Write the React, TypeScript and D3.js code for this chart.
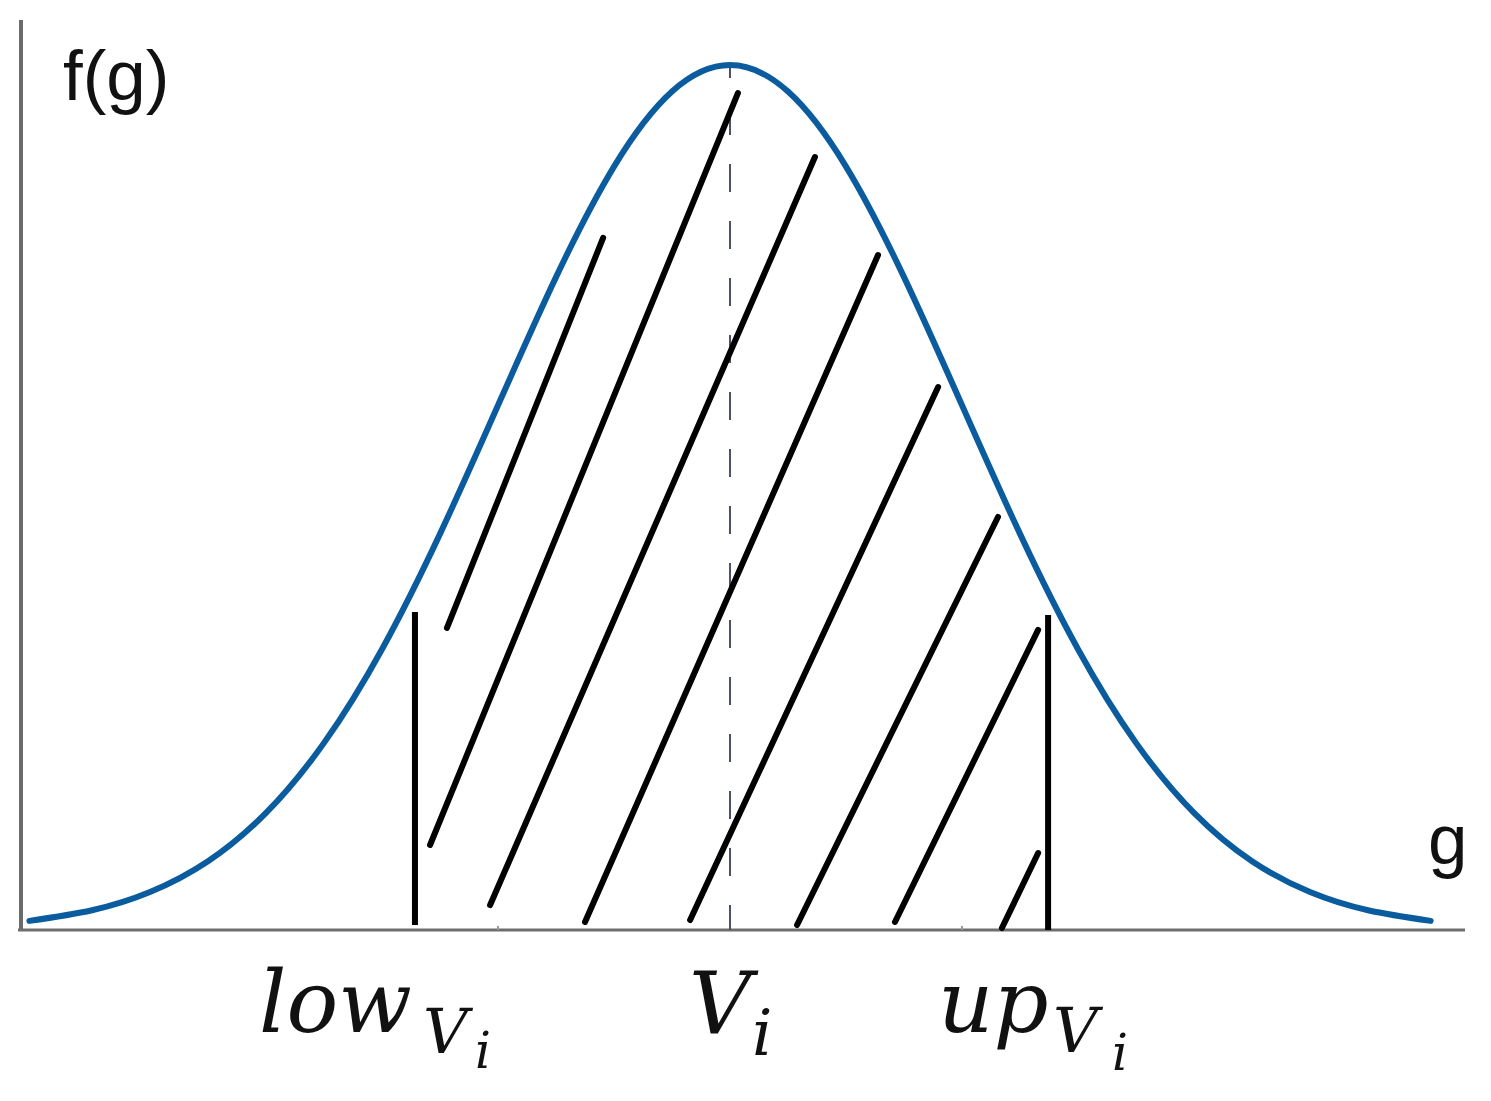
import React from "react";
import * as d3 from "d3";

// Density curve f(g) (g in σ units from V_i, f density)
const curveG = [-3.02, -2.75, -2.5, -2.25, -2, -1.75, -1.5, -1.25, -1, -0.75, -0.5, -0.25, 0, 0.25, 0.5, 0.75, 1, 1.25, 1.5, 1.75, 2, 2.25, 2.5, 2.75, 3.02];
const curveF = [0.0042, 0.0091, 0.0175, 0.0317, 0.054, 0.0863, 0.1295, 0.1827, 0.242, 0.3011, 0.3521, 0.3867, 0.3989, 0.3867, 0.3521, 0.3011, 0.242, 0.1827, 0.1295, 0.0863, 0.054, 0.0317, 0.0175, 0.0091, 0.0042];

// Interval markers
const meanG = 0;
const lowG = -1.358;
const upG = 1.371;
const lowTopF = 0.1467;
const upTopF = 0.1453;
const lowBottomF = 0.0023;

// Hatch strokes: start (lower-left) and end (upper-right) points in (g, f)
const hatchStartG = [-1.22, -1.293, -1.034, -0.625, -0.172, 0.289, 0.711, 1.172];
const hatchStartF = [0.1393, 0.0392, 0.0115, 0.0037, 0.0046, 0.0023, 0.0037, 0.0009];
const hatchEndG = [-0.547, 0.034, 0.366, 0.638, 0.897, 1.155, 1.328, 1.328];
const hatchEndF = [0.3192, 0.386, 0.3565, 0.3113, 0.2504, 0.1905, 0.1384, 0.0355];

// Minor ticks on the g axis
const tickG = [-1, 1];

const W = 1491;
const H = 1101;

export default function App() {
  const x = d3.scaleLinear().domain([-3.069, 3.168]).range([18, 1465]);
  const y = d3.scaleLinear().domain([0, 0.4197]).range([930, 20]);

  const pts: [number, number][] = curveG.map((g, i) => [g, curveF[i]]);
  const line = d3
    .line<[number, number]>()
    .x((d) => x(d[0]))
    .y((d) => y(d[1]))
    .curve(d3.curveNatural);

  const [x0, x1] = x.range();
  const [yb, yt] = y.range();

  const serif = "'DejaVu Serif', serif";
  const sans = "'Liberation Sans', Arial, sans-serif";

  const xl = x(lowG);
  const xm = x(meanG);
  const xu = x(upG);

  return (
    <svg
      width={W}
      height={H}
      viewBox={`0 0 ${W} ${H}`}
      style={{ position: "absolute", left: 0, top: 0, background: "#fff" }}
    >
      <rect x={0} y={0} width={W} height={H} fill="#fff" />
      {/* axes */}
      <line x1={x0 + 3} x2={x0 + 3} y1={yt} y2={yb + 1} stroke="#6b6b6b" strokeWidth={4} />
      <line x1={x0} x2={x1} y1={yb} y2={yb} stroke="#6e6e6e" strokeWidth={3} />
      {tickG.map((g) => (
        <line key={g} x1={x(g)} x2={x(g)} y1={yb - 4} y2={yb} stroke="#9a9a9a" strokeWidth={2} />
      ))}

      {/* mean dashed line */}
      <line
        x1={xm}
        x2={xm}
        y1={y(0.3989)}
        y2={yb}
        stroke="#4b5066"
        strokeWidth={2}
        strokeDasharray="28 29"
        strokeDashoffset={15}
      />

      {/* hatch strokes */}
      {hatchStartG.map((g, i) => (
        <line
          key={i}
          x1={x(g)}
          y1={y(hatchStartF[i])}
          x2={x(hatchEndG[i])}
          y2={y(hatchEndF[i])}
          stroke="#000"
          strokeWidth={6}
          strokeLinecap="round"
        />
      ))}

      {/* interval bounds */}
      <line x1={xl} x2={xl} y1={y(lowTopF)} y2={y(lowBottomF)} stroke="#000" strokeWidth={6} />
      <line x1={xu} x2={xu} y1={y(upTopF)} y2={yb} stroke="#000" strokeWidth={6} />

      {/* density curve */}
      <path d={line(pts) || ""} fill="none" stroke="#0b5c9e" strokeWidth={6} strokeLinecap="round" />

      {/* axis titles */}
      <text x={63} y={100} fontFamily={sans} fontSize={71} fill="#111">
        f(g)
      </text>
      <text x={1428} y={864} fontFamily={sans} fontSize={71} fill="#111">
        g
      </text>

      {/* bound labels */}
      <g fontFamily={serif} fontStyle="italic" fill="#111">
        <text x={xl - 156} y={1032} fontSize={86}>
          low
          <tspan x={xl + 8} y={1053} fontSize={62}>V</tspan>
          <tspan x={xl + 60} y={1068} fontSize={50}>i</tspan>
        </text>
        <text x={xm - 41} y={1033} fontSize={86}>
          V
          <tspan x={xm + 22} y={1055} fontSize={64}>i</tspan>
        </text>
        <text x={xu - 110} y={1032} fontSize={86}>
          up
          <tspan x={xu + 5} y={1052} fontSize={62}>V</tspan>
          <tspan x={xu + 64} y={1070} fontSize={50}>i</tspan>
        </text>
      </g>
    </svg>
  );
}
